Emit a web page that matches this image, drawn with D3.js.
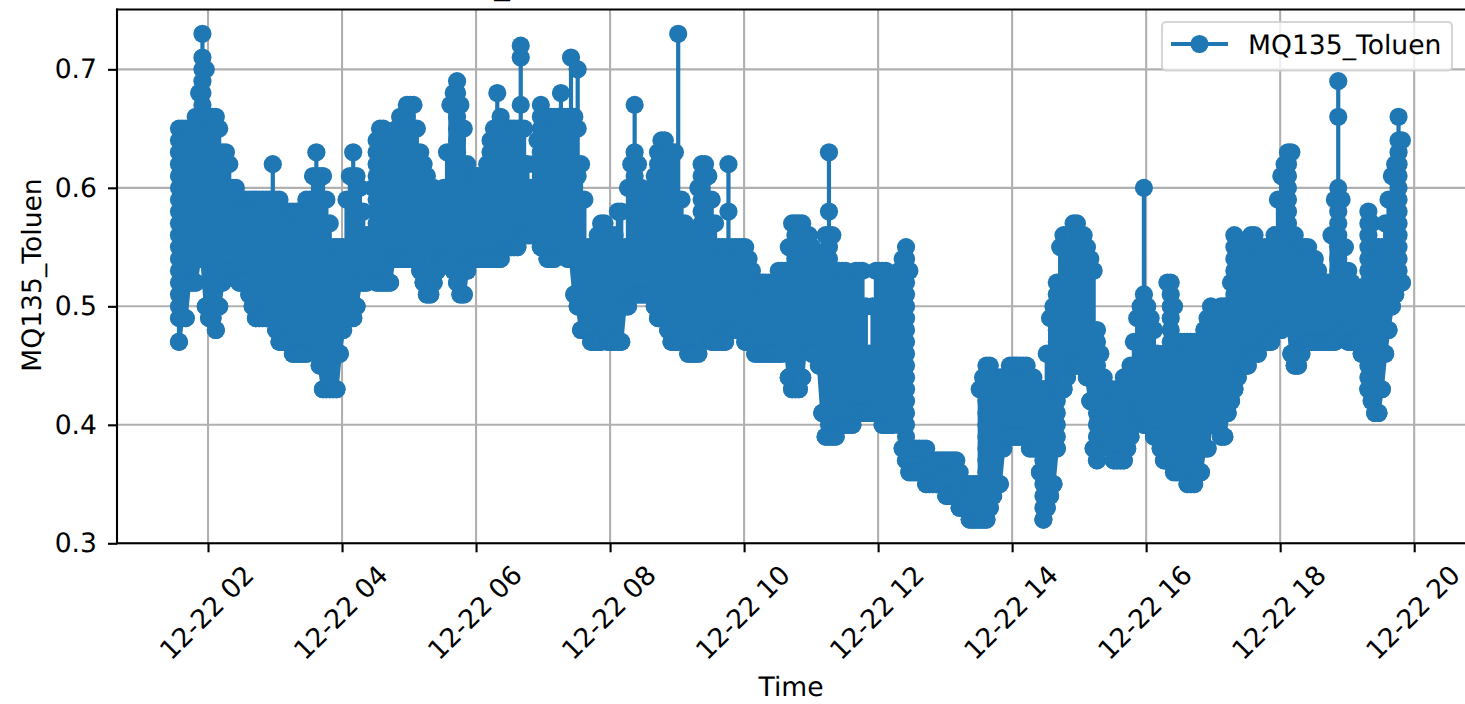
<!DOCTYPE html>
<html>
<head>
<meta charset="utf-8">
<title>MQ135_Toluen</title>
<script src="https://cdn.jsdelivr.net/npm/d3@7"></script>
<style>
  html, body { margin: 0; padding: 0; background: #fff; }
  svg { display: block; }
  text { font-family: "DejaVu Sans", sans-serif; fill: #000; text-rendering: geometricPrecision; }
</style>
</head>
<body>
<div id="chart"></div>
<script>
'use strict';

var seriesName = 'MQ135_Toluen'
  , yTicks = [0.3, 0.4, 0.5, 0.6, 0.7]
  , firstSample = Date.UTC(2023, 11, 22, 1, 34)
  , sampleMinutes = 3
;

// lowest reading in each 3 minute slot
var lows = [
  .47,.49,.49,.52,.52,.52,.54,.54,.50,.49,
  .49,.48,.50,.52,.54,.53,.53,.53,.52,.52,
  .52,.51,.50,.49,.49,.49,.49,.50,.50,.48,
  .47,.47,.47,.47,.46,.46,.46,.46,.46,.47,
  .47,.46,.45,.43,.43,.43,.43,.43,.46,.48,
  .49,.49,.49,.50,.52,.52,.52,.53,.54,.52,
  .52,.52,.52,.52,.54,.54,.54,.54,.54,.54,
  .54,.54,.53,.52,.51,.51,.52,.53,.54,.54,
  .54,.54,.53,.52,.51,.51,.53,.54,.54,.54,
  .54,.54,.54,.54,.54,.54,.54,.55,.55,.55,
  .55,.55,.56,.56,.56,.56,.56,.56,.55,.55,
  .54,.54,.54,.55,.55,.55,.54,.54,.51,.50,
  .48,.48,.48,.47,.47,.47,.47,.48,.47,.47,
  .47,.47,.47,.50,.50,.51,.51,.51,.51,.51,
  .51,.51,.50,.49,.49,.49,.48,.47,.47,.47,
  .48,.47,.46,.46,.46,.46,.47,.48,.48,.47,
  .47,.47,.47,.47,.48,.48,.48,.48,.48,.47,
  .47,.47,.46,.46,.46,.46,.46,.46,.46,.46,
  .46,.47,.44,.43,.43,.43,.44,.47,.47,.46,
  .46,.45,.41,.39,.39,.39,.39,.40,.40,.40,
  .40,.40,.41,.41,.41,.41,.41,.41,.41,.41,
  .40,.40,.40,.40,.41,.40,.38,.37,.36,.36,
  .36,.36,.36,.35,.35,.35,.35,.35,.35,.34,
  .34,.34,.34,.33,.33,.33,.32,.32,.32,.32,
  .32,.32,.33,.34,.35,.35,.38,.39,.39,.39,
  .39,.39,.39,.39,.38,.38,.38,.36,.32,.33,
  .34,.35,.38,.43,.43,.44,.45,.45,.45,.45,
  .45,.44,.42,.38,.37,.38,.39,.39,.38,.37,
  .37,.37,.37,.38,.39,.40,.41,.41,.40,.40,
  .40,.39,.39,.38,.37,.37,.37,.36,.36,.36,
  .36,.35,.35,.35,.36,.36,.38,.38,.40,.41,
  .40,.39,.39,.41,.42,.43,.44,.45,.45,.45,
  .46,.46,.46,.47,.47,.47,.47,.48,.48,.48,
  .49,.49,.46,.45,.45,.46,.47,.47,.47,.47,
  .47,.47,.47,.47,.47,.47,.48,.48,.48,.47,
  .47,.47,.47,.46,.46,.43,.42,.41,.41,.43,
  .46,.48,.50,.51,.52,.52
];

// highest reading in each slot
var highs = [
  .65,.65,.65,.65,.65,.66,.68,.73,.70,.66,
  .66,.66,.65,.63,.63,.62,.60,.60,.59,.59,
  .59,.59,.59,.59,.59,.59,.59,.59,.62,.59,
  .59,.58,.58,.58,.58,.58,.58,.58,.59,.59,
  .61,.63,.61,.61,.59,.57,.55,.55,.55,.55,
  .59,.61,.63,.61,.60,.58,.56,.56,.60,.64,
  .65,.65,.63,.63,.64,.65,.66,.66,.67,.67,
  .67,.65,.63,.62,.61,.60,.60,.59,.58,.60,
  .63,.67,.68,.69,.67,.65,.62,.61,.61,.61,
  .61,.61,.62,.64,.65,.68,.66,.65,.64,.65,
  .65,.65,.72,.65,.62,.60,.62,.64,.67,.66,
  .66,.66,.66,.66,.68,.66,.66,.71,.66,.70,
  .62,.59,.55,.55,.55,.56,.57,.57,.56,.55,
  .56,.58,.58,.55,.60,.62,.67,.62,.60,.59,
  .59,.60,.61,.63,.64,.64,.63,.63,.63,.73,
  .59,.57,.56,.55,.56,.60,.62,.62,.61,.59,
  .57,.55,.55,.55,.62,.55,.55,.55,.55,.55,
  .54,.53,.52,.52,.52,.52,.52,.51,.52,.53,
  .53,.53,.55,.57,.57,.57,.57,.56,.56,.55,
  .53,.53,.54,.56,.63,.56,.52,.53,.53,.53,
  .52,.52,.53,.53,.53,.50,.46,.50,.53,.53,
  .53,.53,.52,.50,.51,.53,.54,.55,.53,.38,
  .38,.38,.38,.38,.36,.36,.37,.37,.37,.37,
  .37,.37,.37,.36,.35,.35,.35,.35,.35,.43,
  .44,.45,.45,.44,.43,.44,.44,.44,.45,.45,
  .45,.45,.45,.45,.44,.44,.43,.42,.43,.46,
  .49,.50,.52,.55,.56,.56,.56,.57,.57,.56,
  .56,.55,.54,.53,.48,.46,.44,.43,.43,.43,
  .42,.42,.44,.44,.45,.47,.49,.50,.60,.50,
  .49,.48,.46,.45,.46,.52,.52,.50,.47,.47,
  .47,.47,.47,.47,.46,.47,.48,.49,.50,.49,
  .49,.50,.50,.50,.52,.56,.55,.55,.54,.54,
  .56,.56,.54,.54,.55,.55,.55,.56,.59,.61,
  .62,.63,.63,.56,.55,.55,.55,.55,.54,.54,
  .53,.52,.52,.52,.56,.59,.69,.59,.55,.53,
  .52,.50,.49,.51,.50,.58,.57,.55,.55,.55,
  .57,.59,.61,.62,.66,.64
];

// slots whose readings between low and high show up on the stems and flanks
var stopSlots = [0, 7, 59, 68, 83, 93, 102, 108, 119, 136, 143, 156, 164, 184, 194, 217, 241, 258, 262, 267, 274, 288, 296, 315, 331, 346, 355, 364];
var stopValues = [
  [.49,.50,.51,.52,.53,.54,.55,.56,.57,.58,.59,.60,.61,.62,.63,.64],
  [.71,.70,.69,.68,.67],
  [.63,.62,.61,.60,.59,.58,.57,.56,.55,.54],
  [.66,.65,.64,.63,.62,.61,.60],
  [.68,.67,.66,.65,.64,.63,.62,.61,.60,.59,.58,.57,.56,.55],
  [.63,.62,.61,.60],
  [.71,.67,.65],
  [.66,.65,.64,.63,.62,.61,.60],
  [.65,.61],
  [.63,.62,.61],
  [.62,.61,.60,.59,.58,.57],
  [.61,.60,.59,.58,.57,.56,.55],
  [.58],
  [.56,.55,.54,.53,.52,.51,.50,.49,.48,.47,.46,.45,.44],
  [.58,.56,.55,.54,.53,.52,.51,.50,.49,.48,.47,.46,.45,.44,.43,.42,.41,.40],
  [.54,.53,.52,.51,.50,.49,.48,.47,.46,.45,.44,.43,.42,.41,.40,.39,.38],
  [.44,.43,.42,.41,.40,.39,.38,.37,.36,.35,.34,.33],
  [.33,.34,.35,.36,.37,.38,.39,.40,.41,.42,.43],
  [.39,.40,.41,.42,.43,.44,.45,.46,.47,.48,.49,.50,.51],
  [.56,.55,.54,.53,.52,.51,.50,.49,.48,.47,.46],
  [.47,.46,.45,.44,.43,.42,.41,.40,.39,.38],
  [.51,.50,.49,.48,.47,.46,.45,.44,.43,.42,.41],
  [.51,.50,.49,.48,.47,.46,.45,.44,.43,.42,.41,.40,.39,.38],
  [.55,.54,.53,.52,.51,.50,.49,.48,.47,.46,.45,.44],
  [.62,.61,.60,.59,.58,.57,.56,.55,.54,.53,.52,.51,.50],
  [.66,.60,.59,.58,.57,.56,.55,.54,.53,.52,.51,.50,.49],
  [.57,.56,.55,.54,.53,.52,.51,.50,.49,.48,.47,.46,.45,.44],
  [.64,.63,.62,.61,.60,.59,.58,.57,.56,.55,.54,.53]
];

var width = 1465
  , height = 704
  , margin = { top: 9.5, right: 0, bottom: 160.7, left: 117 }
  , innerWidth = width - margin.left - margin.right
  , innerHeight = height - margin.top - margin.bottom
  , color = '#1f77b4'
  , gridColor = '#b0b0b0'
  , fontSize = 26.6
  , lineWidth = 4.2
  , dotRadius = 9.1
;

function slotTime (i) {
  return new Date(firstSample + i * sampleMinutes * 60000);
}

// each slot runs up to its high and back so spikes stay as upright stems
var series = [];
lows.forEach(function (low, i) {
  var k = stopSlots.indexOf(i)
    , extra = k < 0 ? [] : stopValues[k]
    , readings = [low].concat(extra, [highs[i]]).sort(d3.ascending)
  ;
  readings.concat([low]).forEach(function (value) {
    series.push({ time: slotTime(i), value: value });
  });
});

var x = d3.scaleUtc()
  .domain([new Date(Date.UTC(2023, 11, 22, 0, 38, 30)), new Date(Date.UTC(2023, 11, 22, 20, 45, 30))])
  .range([0, innerWidth]);

var y = d3.scaleLinear()
  .domain([0.3, 0.7505])
  .range([innerHeight, 0]);

var svg = d3.select('#chart').append('svg')
  .attr('width', width)
  .attr('height', height);

// what is left of the title, the page cuts it off at the top
svg.append('text')
  .attr('x', 502)
  .attr('y', -6.4)
  .attr('text-anchor', 'middle')
  .style('font-size', '31.2px')
  .text('_');

var plot = svg.append('g')
  .attr('transform', 'translate(' + margin.left + ',' + margin.top + ')');

svg.append('defs').append('clipPath')
  .attr('id', 'plot-area')
  .append('rect')
  .attr('width', innerWidth)
  .attr('height', innerHeight);

var xTicks = d3.utcHour.every(2).range(x.domain()[0], x.domain()[1]);

// grid
plot.append('g').selectAll('line')
  .data(xTicks)
  .enter()
  .append('line')
  .attr('x1', function (d) { return x(d); })
  .attr('x2', function (d) { return x(d); })
  .attr('y1', 0)
  .attr('y2', innerHeight)
  .attr('stroke', gridColor)
  .attr('stroke-width', 2.1);

plot.append('g').selectAll('line')
  .data(yTicks)
  .enter()
  .append('line')
  .attr('x1', 0)
  .attr('x2', innerWidth)
  .attr('y1', function (d) { return y(d); })
  .attr('y2', function (d) { return y(d); })
  .attr('stroke', gridColor)
  .attr('stroke-width', 2.1);

// series
var marks = plot.append('g').attr('clip-path', 'url(#plot-area)');

marks.append('path')
  .datum(series)
  .attr('fill', 'none')
  .attr('stroke', color)
  .attr('stroke-width', lineWidth)
  .attr('stroke-linejoin', 'round')
  .attr('d', d3.line()
    .x(function (d) { return x(d.time); })
    .y(function (d) { return y(d.value); }));

marks.selectAll('circle')
  .data(series)
  .enter()
  .append('circle')
  .attr('cx', function (d) { return x(d.time); })
  .attr('cy', function (d) { return y(d.value); })
  .attr('r', dotRadius)
  .attr('fill', color);

// axes
var xAxis = plot.append('g')
  .attr('transform', 'translate(0,' + innerHeight + ')')
  .call(d3.axisBottom(x)
    .tickValues(xTicks)
    .tickSize(9)
    .tickFormat(d3.utcFormat('%m-%d %H')));

xAxis.selectAll('text')
  .attr('transform', 'translate(-2,69) rotate(-45)')
  .attr('x', 0)
  .attr('y', 0)
  .attr('dy', '0.36em')
  .attr('text-anchor', 'middle')
  .style('font-size', fontSize + 'px');

var yAxis = plot.append('g')
  .call(d3.axisLeft(y)
    .tickValues(yTicks)
    .tickSize(9)
    .tickPadding(11)
    .tickFormat(d3.format('.1f')));

yAxis.selectAll('text').style('font-size', fontSize + 'px');

plot.selectAll('.tick line').attr('stroke', '#000').attr('stroke-width', 2.1);
plot.selectAll('.domain').remove();

// spines, the right one falls off the page
[[0, 0, 0, innerHeight], [0, innerHeight, innerWidth, innerHeight], [0, 0, innerWidth, 0]].forEach(function (s) {
  plot.append('line')
    .attr('x1', s[0]).attr('y1', s[1])
    .attr('x2', s[2]).attr('y2', s[3])
    .attr('stroke', '#000')
    .attr('stroke-width', 2.1)
    .attr('stroke-linecap', 'square');
});

// labels
svg.append('text')
  .attr('x', 791)
  .attr('y', 696)
  .attr('text-anchor', 'middle')
  .style('font-size', fontSize + 'px')
  .text('Time');

svg.append('text')
  .attr('transform', 'translate(41,275) rotate(-90)')
  .attr('text-anchor', 'middle')
  .style('font-size', fontSize + 'px')
  .text(seriesName);

// legend
var legend = svg.append('g').attr('transform', 'translate(1162,22)');

legend.append('rect')
  .attr('width', 290)
  .attr('height', 48.5)
  .attr('rx', 4)
  .attr('fill', '#fff')
  .attr('fill-opacity', 0.8)
  .attr('stroke', '#cccccc')
  .attr('stroke-opacity', 0.8)
  .attr('stroke-width', 2.1);

legend.append('line')
  .attr('x1', 9)
  .attr('x2', 66)
  .attr('y1', 22)
  .attr('y2', 22)
  .attr('stroke', color)
  .attr('stroke-width', lineWidth);

legend.append('circle')
  .attr('cx', 37.5)
  .attr('cy', 22)
  .attr('r', dotRadius)
  .attr('fill', color);

legend.append('text')
  .attr('x', 86)
  .attr('y', 31.5)
  .style('font-size', fontSize + 'px')
  .text(seriesName);
</script>
</body>
</html>
